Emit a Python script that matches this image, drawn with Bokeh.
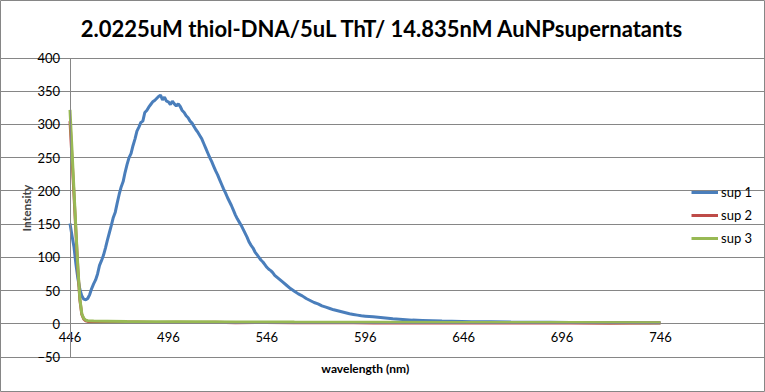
from bokeh.plotting import figure
from bokeh.models import Range1d, FixedTicker, Legend, LegendItem, Label
from bokeh.embed import file_html
from bokeh.resources import INLINE

TITLE = "2.0225uM thiol-DNA/5uL ThT/ 14.835nM AuNPsupernatants"
X_LABEL = "wavelength (nm)"
Y_LABEL = "Intensity"
series_names = ["sup 1", "sup 2", "sup 3"]
x_ticks = [446, 496, 546, 596, 646, 696, 746]
y_ticks = [-50, 0, 50, 100, 150, 200, 250, 300, 350, 400]

wl_sup1 = list(range(446, 551)) + list(range(552, 601, 2)) + [605, 610, 615, 620, 625, 630, 635, 640, 645, 650, 660, 670, 680, 690, 700, 710, 720, 730, 740, 746]
int_sup1 = [151, 133, 116, 90, 68, 52, 42, 37, 36, 38,
            44, 53, 60, 66, 75, 88, 95, 103, 114, 126,
            137, 148, 160, 168, 182, 195, 206, 214, 228, 240,
            250, 256, 268, 278, 290, 296, 303, 305, 318, 321,
            326, 330, 334, 336, 339, 342, 344, 337, 341, 335,
            334, 330, 335, 331, 328, 331, 327, 321, 318, 313,
            310, 305, 302, 297, 292, 288, 283, 278, 271, 264,
            257, 250, 244, 237, 230, 224, 217, 210, 203, 197,
            190, 184, 178, 171, 164, 158, 153, 148, 142, 136,
            130, 123, 118, 114, 108, 104, 100, 96, 93, 89,
            85, 82, 80, 77, 73,
            68, 63, 58, 53, 49, 45, 42, 38, 35, 32,
            30, 27, 25, 23, 21, 19.5, 18, 16.5, 15, 14,
            13, 12, 11.5, 11, 10.5,
            9, 7.5, 6.5, 5.5, 5, 4.5, 4, 3.8, 3.5, 3.2,
            3, 2.6, 2.4, 2.2, 2, 2, 1.8, 1.8, 1.6, 1.6]

wl_sup2 = [446, 447, 448, 449, 450, 451, 452, 453, 454, 455, 460, 470, 480, 490, 500, 510, 520, 530, 545, 560, 580, 600, 620, 640, 660, 680, 700, 720, 746]
int_sup2 = [305, 250, 195, 138, 82, 36, 14, 7, 4.5, 3.5, 3, 2.5, 2.8, 2, 2.4, 1.8, 2.2, 1.6, 2, 1.4, 1.8, 1.2, 1.6, 1.0, 1.4, 1.0, 1.2, 0.9, 1.0]

wl_sup3 = [446, 447, 448, 449, 450, 451, 452, 453, 454, 455, 458, 465, 475, 490, 510, 530, 560, 600, 650, 700, 746]
int_sup3 = [322, 262, 202, 142, 85, 38, 15, 8, 5.5, 4.5, 4, 3.8, 3.5, 3.2, 3, 2.8, 2.5, 2.2, 2, 1.8, 1.7]

colors = ["#4A7EBB", "#BE4B48", "#98B954"]
FONT = "Lato"
GRID = "#868686"

# layout (page pixels; the frame fills the whole figure)
W, H = 765, 392
PX_L, PX_R = 69.5, 660        # pixel of x = 446 / 746
PX_T, PX_B = 57.5, 356.5      # pixel of y = 400 / -50
xmin, xmax = x_ticks[0], x_ticks[-1]
ymin, ymax = y_ticks[0], y_ticks[-1]
ux = (xmax - xmin) / (PX_R - PX_L)
uy = (ymax - ymin) / (PX_B - PX_T)
x_range = Range1d(xmin - PX_L * ux, xmax + (W - PX_R) * ux)
y_range = Range1d(ymin - (H - PX_B) * uy, ymax + PX_T * uy)

p = figure(width=W, height=H, output_backend="svg", toolbar_location=None,
           x_range=x_range, y_range=y_range,
           min_border_left=0, min_border_right=0, min_border_top=0, min_border_bottom=0)
p.outline_line_color = GRID
p.outline_line_width = 1
p.background_fill_color = "white"
p.border_fill_color = "white"

p.xgrid.grid_line_color = None
p.ygrid.grid_line_color = GRID
p.ygrid.grid_line_width = 1
p.ygrid.ticker = FixedTicker(ticks=y_ticks)
p.ygrid.bounds = (xmin, xmax)

p.xaxis.ticker = FixedTicker(ticks=x_ticks)
p.xaxis.fixed_location = 0
p.xaxis.bounds = (xmin, xmax)
p.xaxis.axis_line_color = GRID
p.xaxis.major_tick_line_color = None
p.xaxis.minor_tick_line_color = None
p.xaxis.major_tick_out = 0
p.xaxis.major_tick_in = 0
p.xaxis.major_label_standoff = 8
p.xaxis.major_label_text_font = FONT
p.xaxis.major_label_text_font_size = "13px"
p.xaxis.major_label_text_color = "black"

p.yaxis.ticker = FixedTicker(ticks=y_ticks)
p.yaxis.fixed_location = xmin
p.yaxis.bounds = (ymin, ymax)
p.yaxis.axis_line_color = GRID
p.yaxis.major_tick_line_color = None
p.yaxis.minor_tick_line_color = None
p.yaxis.major_tick_out = 0
p.yaxis.major_tick_in = 0
p.yaxis.major_label_standoff = 10
p.yaxis.major_label_text_font = FONT
p.yaxis.major_label_text_font_size = "13px"
p.yaxis.major_label_text_color = "black"
p.yaxis.axis_label = Y_LABEL
p.yaxis.axis_label_text_font = FONT
p.yaxis.axis_label_text_font_style = "bold"
p.yaxis.axis_label_text_font_size = "12px"
p.yaxis.axis_label_standoff = 1

r1 = p.line(wl_sup1, int_sup1, line_color=colors[0], line_width=3)
r2 = p.line(wl_sup2, int_sup2, line_color=colors[1], line_width=3)
r3 = p.line(wl_sup3, int_sup3, line_color=colors[2], line_width=3)

legend = Legend(items=[LegendItem(label=series_names[0], renderers=[r1]),
                       LegendItem(label=series_names[1], renderers=[r2]),
                       LegendItem(label=series_names[2], renderers=[r3])],
                location=(691, 146), orientation="vertical")
legend.border_line_color = None
legend.background_fill_alpha = 0
legend.padding = 0
legend.margin = 0
legend.spacing = 7
legend.glyph_width = 27
legend.glyph_height = 12
legend.label_height = 12
legend.label_standoff = 3
legend.label_text_font = FONT
legend.label_text_font_size = "13px"
legend.label_text_color = "black"
p.add_layout(legend, "center")

title = Label(x=382, y=H - 27.5, x_units="screen", y_units="screen", text=TITLE,
              text_align="center", text_baseline="middle", text_font=FONT,
              text_font_style="bold", text_font_size="22px", text_color="black")
p.add_layout(title)

xl = Label(x=(xmin + xmax) / 2, y=ymin, text=X_LABEL, text_align="center", text_baseline="top",
           y_offset=-4, text_font=FONT, text_font_style="bold", text_font_size="12px",
           text_color="black")
p.add_layout(xl)

open("out.html", "w").write(file_html(p, INLINE))
